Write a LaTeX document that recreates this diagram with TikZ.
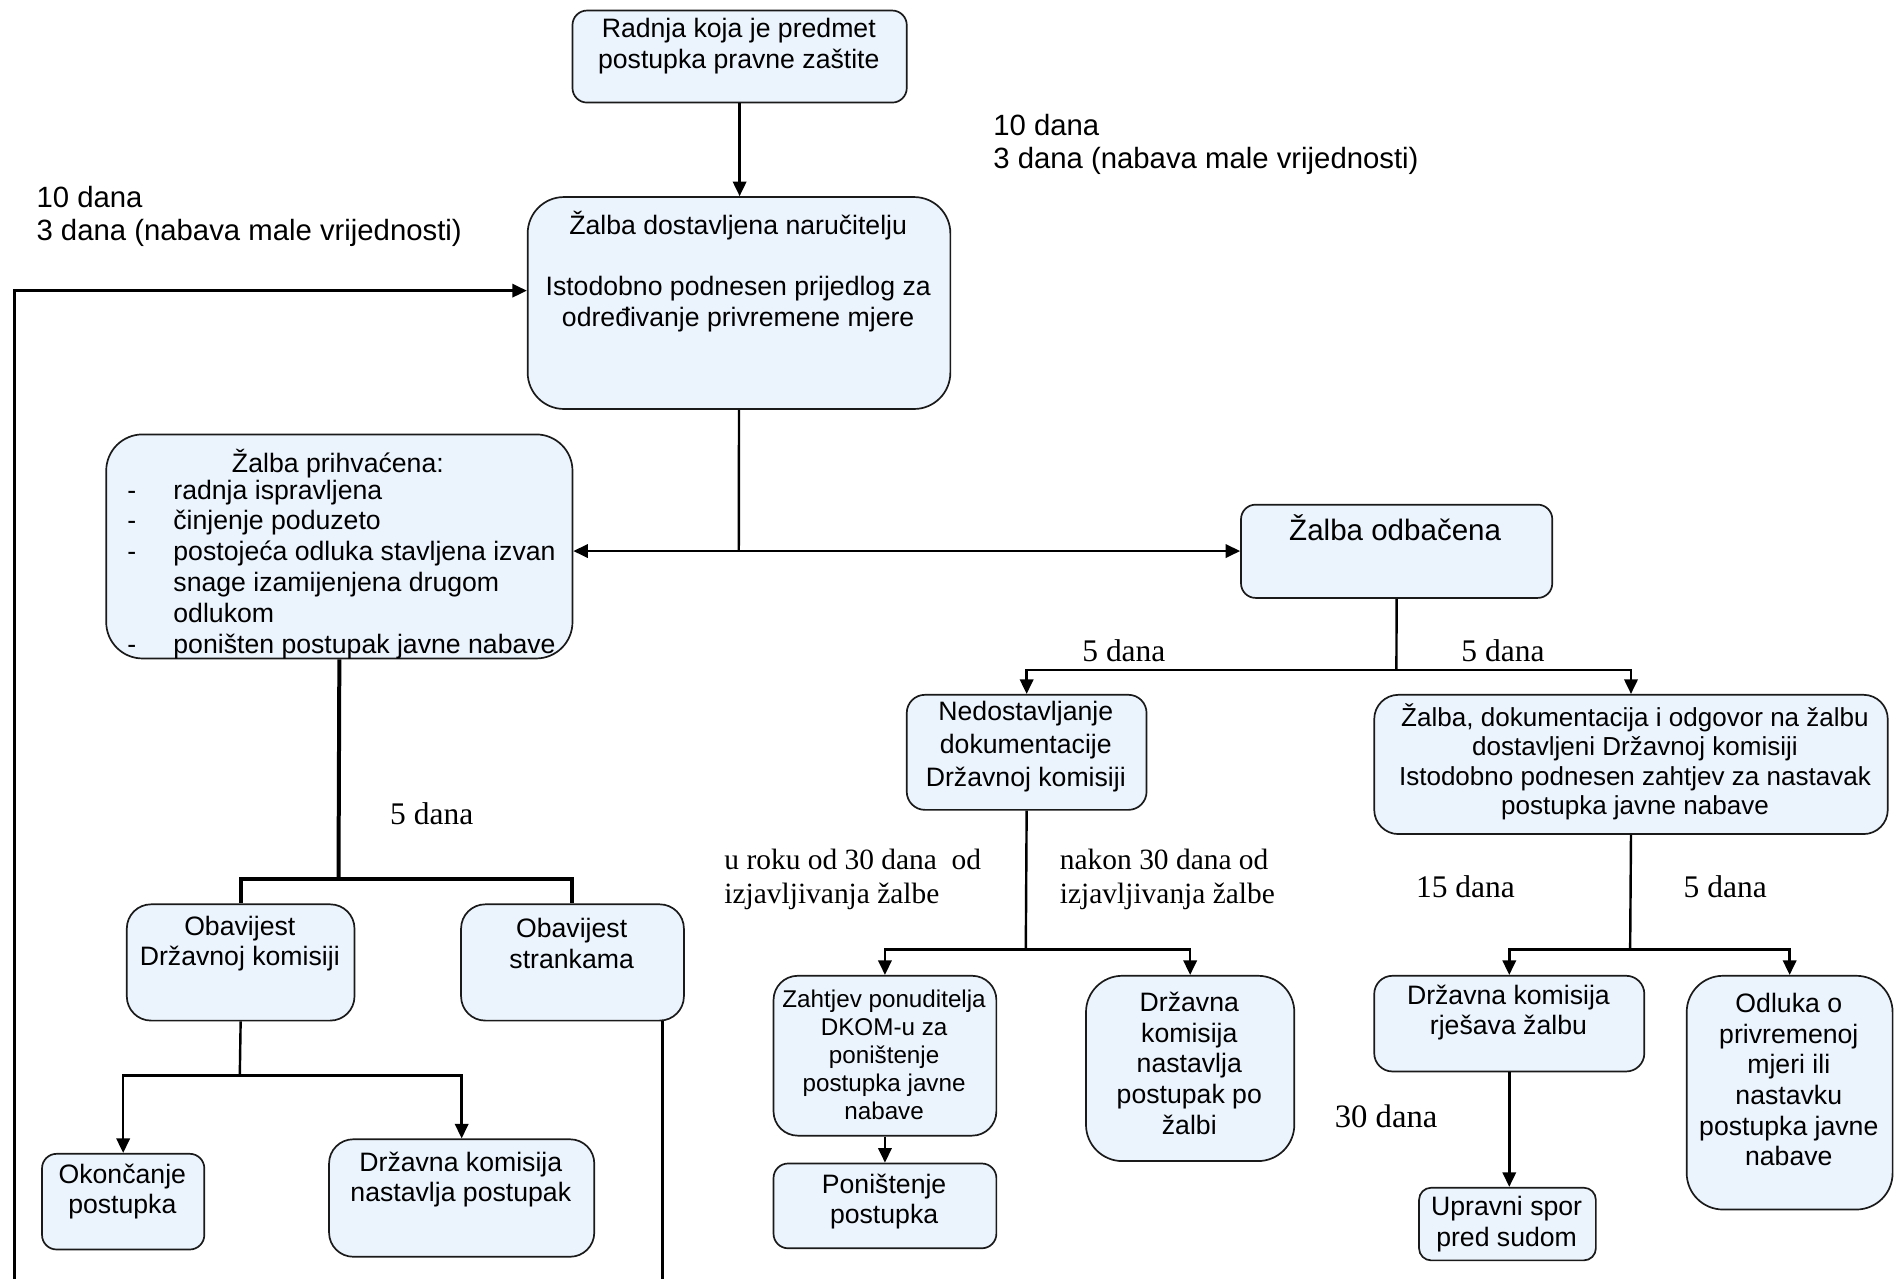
\documentclass[tikz,border=0pt]{standalone}
\usepackage{fontspec}
\setmainfont{Liberation Sans}
\newfontfamily\tmsfont{Liberation Serif}
\usetikzlibrary{arrows.meta}
\definecolor{boxfill}{HTML}{EBF3FC}
\definecolor{edge}{HTML}{1A1A1A}
\tikzset{
  box/.style={draw=edge, fill=boxfill, line width=1.4pt, rounded corners=#1, inner sep=0pt, anchor=north west},
  box/.default=15pt,
  txt/.style={inner sep=0pt, align=center, yshift=-1.5pt, font=\fontsize{22}{25.3}\selectfont},
  midtxt/.style={txt, font=\fontsize{21.5}{24.4}\selectfont},
  bigtxt/.style={txt, font=\fontsize{24.4}{28}\selectfont},
  smalltxt/.style={txt, font=\fontsize{20}{23}\selectfont},
  lbl/.style={inner sep=0pt, align=left, anchor=west, font=\fontsize{24.2}{27.5}\selectfont},
  days/.style={inner sep=0pt, align=left, font=\tmsfont\fontsize{26}{29}\selectfont},
  days2/.style={days, font=\tmsfont\fontsize{24.3}{28}\selectfont},
  ln/.style={line width=2pt, draw=black},
  arr/.style={ln, -{Triangle[length=12pt,width=11pt]}},
  thk/.style={line width=3.3pt, draw=black}
}
\begin{document}
\begin{tikzpicture}[x=1pt,y=-1pt]
\useasboundingbox (0,0) rectangle (1568,1056);
% boxes
\node[box=12pt, minimum width=276pt, minimum height=76pt] (top) at (472,8) {};
\node[box=30pt, minimum width=349pt, minimum height=175pt] (b2) at (435,162) {};
\node[box=30pt, minimum width=385pt, minimum height=185pt] (b3) at (87,358) {};
\node[box=12pt, minimum width=257pt, minimum height=77pt] (odb) at (1024,416) {};
\node[box=15pt, minimum width=198pt, minimum height=95pt] (ned) at (748,573) {};
\node[box=20pt, minimum width=424pt, minimum height=115pt] (zdok) at (1134,573) {};
\node[box=20pt, minimum width=188pt, minimum height=96pt] (obdk) at (104,746) {};
\node[box=20pt, minimum width=184pt, minimum height=96pt] (obst) at (380,746) {};
\node[box=12pt, minimum width=134pt, minimum height=79pt] (okon) at (34,952) {};
\node[box=20pt, minimum width=219pt, minimum height=97pt] (dknp) at (271,940) {};
\node[box=20pt, minimum width=184pt, minimum height=132pt] (zaht) at (638,805) {};
\node[box=12pt, minimum width=184pt, minimum height=70pt] (poni) at (638,960) {};
\node[box=30pt, minimum width=172pt, minimum height=153pt] (dkpz) at (896,805) {};
\node[box=15pt, minimum width=223pt, minimum height=79pt] (dkrz) at (1134,805) {};
\node[box=30pt, minimum width=170pt, minimum height=193pt] (odl) at (1392,805) {};
\node[box=10pt, minimum width=146pt, minimum height=60pt] (ups) at (1171,980) {};
% box texts
\node[txt] (ttop) at (610,36.5) {Radnja koja je predmet\\postupka pravne zaštite};
\node[txt] (tb2) at (609.5,222.5) {Žalba dostavljena naručitelju\\\mbox{}\\Istodobno podnesen prijedlog za\\određivanje privremene mjere};
\node[txt] (tb3) at (279,381) {Žalba prihvaćena:};
\node[txt, align=left, anchor=west, font=\fontsize{22}{25.4}\selectfont] (tb3l) at (105,468.5) {\makebox[38pt][l]{-}radnja ispravljena\\
\makebox[38pt][l]{-}činjenje poduzeto\\
\makebox[38pt][l]{-}postojeća odluka stavljena izvan\\
\makebox[38pt][l]{}snage izamijenjena drugom\\
\makebox[38pt][l]{}odlukom\\
\makebox[38pt][l]{-}poništen postupak javne nabave};
\node[bigtxt] (todb) at (1152,434) {Žalba odbačena};
\node[txt, font=\fontsize{22}{27}\selectfont] (tned) at (847,615) {Nedostavljanje\\dokumentacije\\Državnoj komisiji};
\node[midtxt] (tzdok) at (1350,627.5) {Žalba, dokumentacija i odgovor na žalbu\\dostavljeni Državnoj komisiji\\Istodobno podnesen zahtjev za nastavak\\postupka javne nabave};
\node[txt] (tobdk) at (198,777.5) {Obavijest\\Državnoj komisiji};
\node[txt] (tobst) at (472,777.5) {Obavijest\\strankama};
\node[txt] (tokon) at (101,982.5) {Okončanje\\postupka};
\node[txt] (tdknp) at (380.5,972.5) {Državna komisija\\nastavlja postupak};
\node[smalltxt] (tzaht) at (730,869.5) {Zahtjev ponuditelja\\DKOM-u za\\poništenje\\postupka javne\\nabave};
\node[txt] (tponi) at (730,990.5) {Poništenje\\postupka};
\node[txt] (tdkpz) at (982,876.5) {Državna\\komisija\\nastavlja\\postupak po\\žalbi};
\node[txt] (tdkrz) at (1245.5,834.5) {Državna komisija\\rješava žalbu};
\node[txt] (todl) at (1477,890) {Odluka o\\privremenoj\\mjeri ili\\nastavku\\postupka javne\\nabave};
\node[txt] (tups) at (1244,1009) {Upravni spor\\pred sudom};
% labels
\node[lbl] (l1) at (820,119.5) {10 dana\\3 dana (nabava male vrijednosti)};
\node[lbl] (l2) at (30,178.5) {10 dana\\3 dana (nabava male vrijednosti)};
\node[days] (d1) at (356.5,672) {5 dana};
\node[days] (d2) at (928,537) {5 dana};
\node[days] (d3) at (1241,537) {5 dana};
\node[days2, anchor=west] (d4) at (598,726) {u roku od 30 dana\ \ od\\izjavljivanja žalbe};
\node[days2, anchor=west] (d5) at (875,726) {nakon 30 dana od\\izjavljivanja žalbe};
\node[days] (d6) at (1210,732) {15 dana};
\node[days] (d7) at (1424.5,732) {5 dana};
\node[days, font=\tmsfont\fontsize{27}{30}\selectfont] (d8) at (1144.5,922) {30 dana};
% junctions
\coordinate (j1) at (610,455);
\coordinate (j2) at (1153,553);
\coordinate (j3) at (279.5,726);
\coordinate (j4) at (198,888);
\coordinate (j5) at (847,784);
\coordinate (j6) at (1346,784);
\coordinate (lb) at (12,1056);
\coordinate (lt) at (0,240);
\coordinate (sb) at (547,1056);
% connectors
\draw[arr] (top.south) -- (top.south |- b2.north);
\draw[ln] (b2.south) -- (j1);
\draw[arr] (j1) -- (j1 -| b3.east);
\draw[arr] (j1) -- (j1 -| odb.west);
\draw[ln] (odb.south) -- (j2);
\draw[arr] (j2) -| (ned.north);
\draw[arr] (j2) -| (zdok.north);
\draw[thk] (b3.south) -- (j3);
\draw[thk] (j3) -| (obdk.north);
\draw[thk] (j3) -| (obst.north);
\draw[ln] (obdk.south) -- (j4);
\draw[arr] (j4) -| (okon.north);
\draw[arr] (j4) -| (dknp.north);
\draw[ln] (ned.south) -- (j5);
\draw[arr] (j5) -| (zaht.north);
\draw[arr] (j5) -| (dkpz.north);
\draw[arr] (zaht.south) -- (poni.north);
\draw[ln] (zdok.south) -- (j6);
\draw[arr] (j6) -| (dkrz.north);
\draw[arr] (j6) -| (odl.north);
\draw[arr] (dkrz.south) -- (dkrz.south |- ups.north);
\draw[arr] (lb) |- (b2.west |- lt);
\draw[ln] (sb |- obst.south) -- (sb);
\end{tikzpicture}
\end{document}
